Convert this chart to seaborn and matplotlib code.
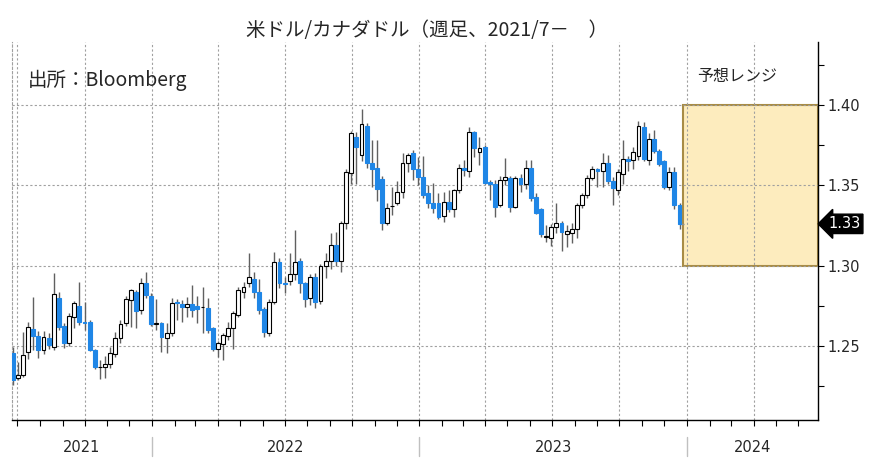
import pandas as pd
import numpy as np
import matplotlib
matplotlib.use("Agg")
import matplotlib.pyplot as plt
import matplotlib.dates as mdates
import matplotlib.transforms as mtransforms
from matplotlib.patches import Rectangle
from matplotlib.ticker import MultipleLocator, FormatStrFormatter, NullFormatter
import seaborn as sns

# Weekly USD/CAD candles (weeks ending Friday)
first_week = "2021-06-25"

open_ = [1.2456, 1.2300, 1.2318, 1.2463, 1.2605, 1.2562, 1.2474, 1.2550, 1.2493, 1.2798,
         1.2624, 1.2518, 1.2680, 1.2748, 1.2650, 1.2649, 1.2474, 1.2368, 1.2370, 1.2388,
         1.2450, 1.2549, 1.2643, 1.2786, 1.2836, 1.2723, 1.2891, 1.2811, 1.2636, 1.2643,
         1.2548, 1.2580, 1.2775, 1.2760, 1.2741, 1.2760, 1.2748, 1.2740, 1.2736, 1.2611,
         1.2480, 1.2512, 1.2562, 1.2611, 1.2692, 1.2836, 1.2892, 1.2917, 1.2836, 1.2730,
         1.2580, 1.2773, 1.3023, 1.2892, 1.2904, 1.2947, 1.3030, 1.2892, 1.2800, 1.2930,
         1.2780, 1.2998, 1.3030, 1.3130, 1.3030, 1.3265, 1.3577, 1.3801, 1.3689, 1.3870,
         1.3640, 1.3610, 1.3540, 1.3265, 1.3370, 1.3390, 1.3460, 1.3640, 1.3700, 1.3600,
         1.3550, 1.3450, 1.3390, 1.3390, 1.3310, 1.3395, 1.3350, 1.3470, 1.3610, 1.3590,
         1.3830, 1.3710, 1.3740, 1.3520, 1.3510, 1.3380, 1.3535, 1.3545, 1.3365, 1.3545,
         1.3505, 1.3610, 1.3430, 1.3350, 1.3180, 1.3170, 1.3240, 1.3265, 1.3195, 1.3200,
         1.3228, 1.3375, 1.3440, 1.3545, 1.3600, 1.3590, 1.3640, 1.3525, 1.3470, 1.3570,
         1.3665, 1.3660, 1.3680, 1.3860, 1.3655, 1.3790, 1.3715, 1.3650, 1.3490, 1.3580,
         1.3380]

high = [1.2493, 1.2400, 1.2587, 1.2650, 1.2804, 1.2593, 1.2593, 1.2580, 1.2953, 1.2835,
        1.2640, 1.2705, 1.2780, 1.2898, 1.2775, 1.2660, 1.2480, 1.2410, 1.2438, 1.2493,
        1.2587, 1.2661, 1.2810, 1.2855, 1.2850, 1.2925, 1.2960, 1.2830, 1.2790, 1.2650,
        1.2640, 1.2796, 1.2792, 1.2786, 1.2805, 1.2879, 1.2811, 1.2867, 1.2800, 1.2620,
        1.2530, 1.2580, 1.2650, 1.2720, 1.2870, 1.2900, 1.3078, 1.2960, 1.2917, 1.2740,
        1.2790, 1.3085, 1.3050, 1.2930, 1.3080, 1.3224, 1.3050, 1.2900, 1.2945, 1.2953,
        1.3010, 1.3080, 1.3203, 1.3210, 1.3280, 1.3600, 1.3840, 1.3830, 1.3977, 1.3885,
        1.3782, 1.3780, 1.3560, 1.3390, 1.3489, 1.3528, 1.3700, 1.3700, 1.3720, 1.3676,
        1.3680, 1.3500, 1.3514, 1.3450, 1.3458, 1.3470, 1.3480, 1.3630, 1.3657, 1.3862,
        1.3840, 1.3800, 1.3750, 1.3533, 1.3530, 1.3560, 1.3667, 1.3560, 1.3560, 1.3570,
        1.3655, 1.3655, 1.3450, 1.3360, 1.3250, 1.3260, 1.3387, 1.3280, 1.3250, 1.3265,
        1.3390, 1.3450, 1.3565, 1.3620, 1.3610, 1.3701, 1.3690, 1.3550, 1.3600, 1.3785,
        1.3680, 1.3740, 1.3899, 1.3895, 1.3826, 1.3844, 1.3725, 1.3660, 1.3614, 1.3614,
        1.3390]

low = [1.2256, 1.2285, 1.2306, 1.2420, 1.2474, 1.2424, 1.2450, 1.2480, 1.2475, 1.2600,
       1.2490, 1.2500, 1.2611, 1.2630, 1.2600, 1.2470, 1.2356, 1.2294, 1.2300, 1.2360,
       1.2430, 1.2520, 1.2624, 1.2618, 1.2611, 1.2700, 1.2800, 1.2625, 1.2600, 1.2463,
       1.2453, 1.2560, 1.2662, 1.2649, 1.2680, 1.2680, 1.2643, 1.2580, 1.2580, 1.2470,
       1.2431, 1.2412, 1.2540, 1.2480, 1.2680, 1.2800, 1.2870, 1.2800, 1.2700, 1.2555,
       1.2560, 1.2760, 1.2860, 1.2830, 1.2880, 1.2910, 1.2830, 1.2742, 1.2755, 1.2736,
       1.2760, 1.2923, 1.2980, 1.2998, 1.2960, 1.3226, 1.3508, 1.3508, 1.3650, 1.3610,
       1.3489, 1.3400, 1.3222, 1.3253, 1.3315, 1.3380, 1.3420, 1.3580, 1.3530, 1.3500,
       1.3420, 1.3360, 1.3330, 1.3290, 1.3270, 1.3334, 1.3300, 1.3450, 1.3560, 1.3550,
       1.3676, 1.3626, 1.3510, 1.3408, 1.3302, 1.3365, 1.3502, 1.3334, 1.3360, 1.3460,
       1.3480, 1.3400, 1.3320, 1.3180, 1.3147, 1.3120, 1.3200, 1.3093, 1.3116, 1.3140,
       1.3170, 1.3360, 1.3420, 1.3530, 1.3489, 1.3489, 1.3510, 1.3377, 1.3440, 1.3510,
       1.3590, 1.3600, 1.3660, 1.3650, 1.3626, 1.3700, 1.3620, 1.3480, 1.3470, 1.3350,
       1.3228]

close = [1.2288, 1.2318, 1.2443, 1.2618, 1.2562, 1.2474, 1.2556, 1.2505, 1.2823, 1.2618,
         1.2518, 1.2686, 1.2767, 1.2649, 1.2643, 1.2474, 1.2368, 1.2370, 1.2388, 1.2456,
         1.2549, 1.2636, 1.2792, 1.2848, 1.2717, 1.2891, 1.2817, 1.2636, 1.2645, 1.2556,
         1.2580, 1.2770, 1.2765, 1.2741, 1.2760, 1.2723, 1.2730, 1.2744, 1.2599, 1.2480,
         1.2518, 1.2568, 1.2611, 1.2705, 1.2848, 1.2867, 1.2929, 1.2836, 1.2723, 1.2587,
         1.2773, 1.3023, 1.2892, 1.2885, 1.2947, 1.3025, 1.2892, 1.2792, 1.2930, 1.2773,
         1.2998, 1.3030, 1.3130, 1.3030, 1.3265, 1.3580, 1.3826, 1.3738, 1.3882, 1.3640,
         1.3600, 1.3480, 1.3265, 1.3360, 1.3372, 1.3460, 1.3640, 1.3690, 1.3600, 1.3550,
         1.3440, 1.3390, 1.3360, 1.3300, 1.3395, 1.3350, 1.3470, 1.3610, 1.3595, 1.3830,
         1.3730, 1.3735, 1.3515, 1.3510, 1.3365, 1.3535, 1.3550, 1.3365, 1.3545, 1.3505,
         1.3610, 1.3420, 1.3330, 1.3195, 1.3185, 1.3240, 1.3265, 1.3210, 1.3215, 1.3228,
         1.3375, 1.3440, 1.3545, 1.3600, 1.3590, 1.3640, 1.3525, 1.3485, 1.3580, 1.3665,
         1.3650, 1.3710, 1.3870, 1.3665, 1.3790, 1.3715, 1.3635, 1.3490, 1.3580, 1.3380,
         1.3260]

# forecast range for 2024
forecast_start = "2023-12-27"
forecast_end = "2024-06-28"
forecast_low = 1.30
forecast_high = 1.40

axis_start = "2021-06-24"
years = [2021, 2022, 2023, 2024]
y_ticks = [1.25, 1.30, 1.35, 1.40]

title = "米ドル/カナダドル（週足、2021/7－　）"
source = "出所：Bloomberg"
range_label = "予想レンジ"

DOWN_COLOR = "#1f86e6"
GRID_COLOR = "#a0a0a0"


def main():
    sns.set_theme(style="white")
    plt.rcParams['font.family'] = ['Noto Sans CJK JP', 'DejaVu Sans']

    df = pd.DataFrame({'open': open_, 'high': high, 'low': low, 'close': close})
    df['date'] = pd.date_range(first_week, periods=len(df), freq='W-FRI')
    x = mdates.date2num(df['date'])
    up = df['close'] >= df['open']

    fig = plt.figure(figsize=(8.74, 4.71), dpi=100)
    ax = fig.add_axes([12 / 874, 51 / 471, 806 / 874, 378 / 471])

    # wicks then bodies
    ax.vlines(x, df['low'], df['high'], color='#606060', linewidth=1, zorder=2)
    body = np.maximum((df['close'] - df['open']).abs(), 0.0003)
    bottom = np.minimum(df['open'], df['close'])
    ax.bar(x[up], body[up], bottom=bottom[up], width=5.3, facecolor='white',
           edgecolor='black', linewidth=0.8, zorder=3)
    ax.bar(x[~up], body[~up], bottom=bottom[~up], width=5.3, facecolor=DOWN_COLOR,
           edgecolor=DOWN_COLOR, linewidth=0.8, zorder=3)
    ax.hlines(close[-1], x[-1], x[-1] + 6, color='#909090', linewidth=1, zorder=2)

    # forecast box
    fs, fe = mdates.date2num(pd.Timestamp(forecast_start)), mdates.date2num(pd.Timestamp(forecast_end))
    ax.add_patch(Rectangle((fs, forecast_low), fe - fs, forecast_high - forecast_low,
                           facecolor='#fdecbe', edgecolor='#a88c46', linewidth=1.5, zorder=0.3))

    x0 = mdates.date2num(pd.Timestamp(axis_start))
    ax.set_xlim(x0, fe)
    ax.set_ylim(1.2039, 1.4392)

    # axes and grid
    ax.set_axisbelow(True)
    ax.grid(True, which='major', color=GRID_COLOR, linestyle=(0, (2, 2)), linewidth=0.8)
    ax.xaxis.set_major_locator(mdates.MonthLocator(bymonth=[1, 4, 7, 10]))
    ax.xaxis.set_minor_locator(mdates.MonthLocator())
    ax.xaxis.set_major_formatter(NullFormatter())
    ax.tick_params(axis='x', which='both', bottom=True, length=4, width=0.8,
                   color='black', direction='out')

    ax.yaxis.tick_right()
    ax.set_yticks(y_ticks)
    ax.yaxis.set_minor_locator(MultipleLocator(0.025))
    ax.yaxis.set_major_formatter(FormatStrFormatter('%.2f'))
    ax.tick_params(axis='y', which='both', right=True, left=False, length=4, width=0.8,
                   color='black', direction='out', pad=3, labelsize=10.5)
    for lbl in ax.get_yticklabels():
        lbl.set_fontfamily('DejaVu Sans')

    ax.spines['top'].set_visible(False)
    ax.spines['left'].set_color(GRID_COLOR)
    ax.spines['left'].set_linestyle((0, (2, 2)))
    ax.spines['left'].set_linewidth(0.8)
    for side in ['right', 'bottom']:
        ax.spines[side].set_color('black')
        ax.spines[side].set_linewidth(1)

    # year labels with separators below the axis
    trans = mtransforms.blended_transform_factory(ax.transData, ax.transAxes)
    bounds = [x0] + [mdates.date2num(pd.Timestamp(f"{y}-01-01")) for y in years[1:]] + [fe]
    for i, yr in enumerate(years):
        ax.text((bounds[i] + bounds[i + 1]) / 2, -0.074, str(yr), transform=trans,
                ha='center', va='center', fontsize=10.5, family='DejaVu Sans')
        if i > 0:
            ax.plot([bounds[i], bounds[i]], [-0.045, -0.095], transform=trans,
                    color='#c0c0c0', linewidth=1, clip_on=False)

    # last price tag
    ytrans = mtransforms.blended_transform_factory(ax.transAxes, ax.transData)
    ax.text(1.013, close[-1], f"{close[-1]:.2f}", transform=ytrans, ha='left', va='center',
            color='white', fontsize=10.5, family='DejaVu Sans',
            bbox=dict(boxstyle='larrow,pad=0.15', facecolor='black', edgecolor='black'))

    fig.text(0.489, 0.936, title, ha='center', va='center', fontsize=14)
    fig.text(28 / 874, 1 - 80 / 471, source, ha='left', va='center', fontsize=14)
    fig.text(737 / 874, 1 - 76 / 471, range_label, ha='center', va='center', fontsize=11.5)

    fig.savefig('out.png', dpi=100)
    plt.close(fig)


if __name__ == "__main__":
    main()
